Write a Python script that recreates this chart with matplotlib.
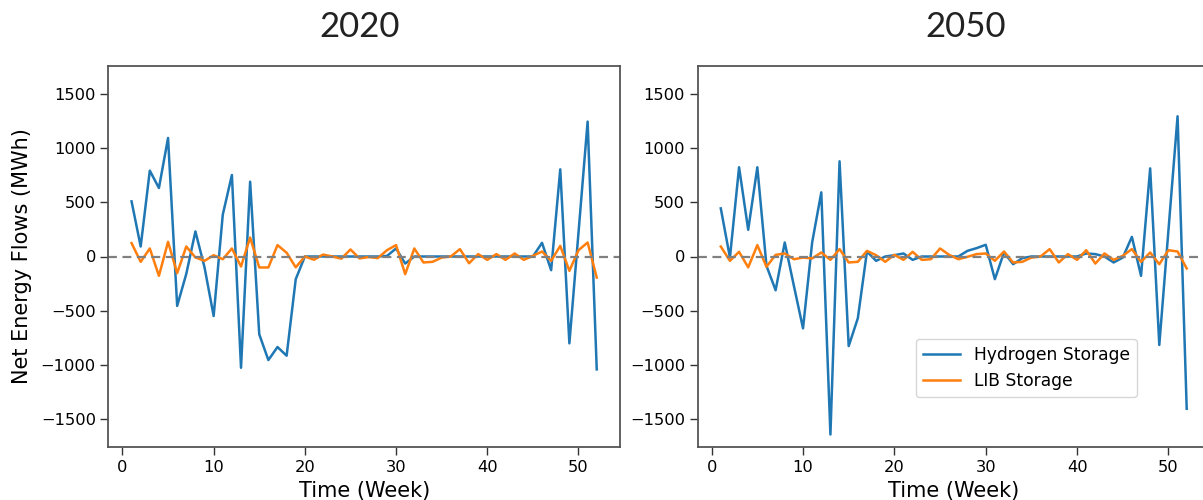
import matplotlib
matplotlib.use("Agg")
import matplotlib.pyplot as plt

weeks = list(range(1, 53))

h2_2020 = [508, 92, 791, 631, 1092, -455, -160, 231, -100, -548,
           385, 751, -1025, 689, -717, -954, -834, -914, -209, 0,
           0, 0, 0, 0, 0, 0, 0, 0, 5, 74,
           -65, 0, 0, 0, 0, 0, 0, 0, 0, 0,
           0, 0, 0, 0, 0, 126, -126, 803, -800, 220,
           1243, -1040]
lib_2020 = [123, -49, 74, -178, 135, -154, 92, -9, -40, 12,
            -25, 74, -92, 175, -101, -101, 105, 35, -100, 0,
            -30, 18, 0, -20, 65, -18, -5, -15, 58, 105,
            -163, 74, -55, -49, -10, 0, 68, -62, 22, -31,
            22, -31, 28, -31, 6, 46, -40, 98, -132, 58,
            129, -194]

h2_2050 = [443, -10, 822, 246, 822, -86, -311, 129, -270, -662,
           129, 591, -1640, 877, -825, -569, 46, -40, 0, 12,
           28, -31, 0, 0, 0, 0, 0, 52, 77, 108,
           -209, 37, -71, -15, 0, 0, 0, 0, 0, 0,
           28, 22, 0, -55, -10, 181, -178, 812, -815, 240,
           1292, -1403]
lib_2050 = [92, -40, 43, -100, 105, -95, 15, 28, -25, -10,
            -18, 37, -31, 68, -55, -49, 52, 12, -49, 15,
            -31, 43, -31, -25, 74, 15, -25, -3, 22, 28,
            -40, 46, -55, -49, -10, 0, 68, -55, 22, -31,
            58, -65, 28, -31, 6, 68, -49, 37, -71, 58,
            46, -110]

titles = ["2020", "2050"]
series_labels = ["Hydrogen Storage", "LIB Storage"]
yticks = [-1500, -1000, -500, 0, 500, 1000, 1500]
xticks = [0, 10, 20, 30, 40, 50]

W, H = 1203, 500
fig = plt.figure(figsize=(W / 100, H / 100), dpi=100)

def px_axes(x0, y0, x1, y1):
    return fig.add_axes([x0 / W, 1 - y1 / H, (x1 - x0) / W, (y1 - y0) / H])

ax1 = px_axes(108.3, 66, 620, 447)
ax2 = px_axes(697.5, 66, 1210, 447)

data = [(h2_2020, lib_2020), (h2_2050, lib_2050)]
for ax, (h2, lib) in zip([ax1, ax2], data):
    ax.plot(weeks, h2, color="#1f77b4", lw=1.8, label=series_labels[0])
    ax.plot(weeks, lib, color="#ff7f0e", lw=1.8, label=series_labels[1])
    ax.axhline(0, color="#808080", ls="--", lw=1.6, dashes=(4, 2.5))
    ax.set_ylim(-1755, 1755)
    ax.set_xlim(-1.55, 54.55)
    ax.set_yticks(yticks)
    ax.set_xticks(xticks)
    ax.tick_params(labelsize=11.7, length=5.5, width=1.0, color="#333333")
    for s in ax.spines.values():
        s.set_color("#555555")
        s.set_linewidth(1.3)
    ax.set_xlabel("Time (Week)", fontsize=15)
    ax.xaxis.set_label_coords(0.5, -(491 - 447) / 381)
    ax.xaxis.label.set_va("center")

ax1.set_ylabel("Net Energy Flows (MWh)", fontsize=15)
ax1.yaxis.set_label_coords(-(108.3 - 22) / 511.7, 0.5)
ax1.yaxis.label.set_va("center")

fig.text(360 / W, 1 - 27 / H, titles[0], fontsize=25, family="Lato",
         ha="center", va="center", color="#222222")
fig.text(966 / W, 1 - 27 / H, titles[1], fontsize=25, family="Lato",
         ha="center", va="center", color="#222222")

ax2.legend(loc="upper left", bbox_to_anchor=(916 / W, 1 - 339 / H),
           bbox_transform=fig.transFigure, borderaxespad=0, fontsize=12.3,
           handlelength=2.2)

fig.savefig("out.png", dpi=100)
